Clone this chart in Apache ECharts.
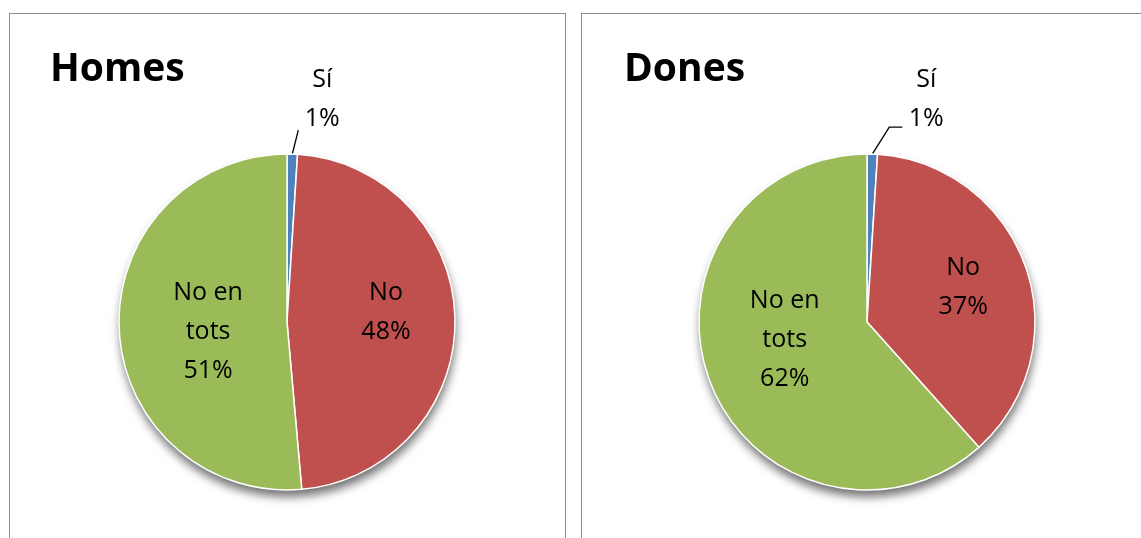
<!DOCTYPE html>
<html>
<head>
<meta charset="utf-8">
<script src="https://cdn.jsdelivr.net/npm/echarts@6/dist/echarts.min.js"></script>
<style>
  html, body { margin: 0; padding: 0; background: #fff; overflow: hidden; }
  .panel { position: absolute; border: 1.5px solid #8c8c8c; background: #fff; }
  #chart { position: absolute; left: 0; top: 0; width: 1141px; height: 538px; }
</style>
</head>
<body>
<div class="panel" style="left:9px;top:13px;width:555px;height:560px;"></div>
<div class="panel" style="left:581px;top:13px;width:600px;height:560px;"></div>
<div id="chart"></div>
<script>
  // data
  const categories = ['Sí', 'No', 'No en tots'];
  const homes = [1.0, 47.6, 51.4];
  const dones = [1.0, 37.4, 61.6];
  const titles = ['Homes', 'Dones'];
  const colors = ['#4F81BD', '#C0504D', '#9BBB59'];

  const font = 'Open Sans';
  const chart = echarts.init(document.getElementById('chart'));

  function buildData(values) {
    return categories.map((name, i) => {
      const item = { name: name, value: values[i], itemStyle: { color: colors[i] } };
      if (i === 0) {
        item.label = { position: 'outside' };
        item.labelLine = { show: true, length: 28, length2: 10,
          lineStyle: { color: '#000', width: 1.3 } };
      }
      return item;
    });
  }

  function shadowSeries(center, values) {
    return {
      type: 'pie',
      center: center,
      radius: 168,
      silent: true,
      z: 1,
      label: { show: false },
      labelLine: { show: false },
      itemStyle: {
        color: '#fff',
        shadowBlur: 10,
        shadowOffsetY: 7,
        shadowOffsetX: 1,
        shadowColor: 'rgba(0,0,0,0.55)'
      },
      data: [values.reduce((a, b) => a + b, 0)]
    };
  }

  // cfg.line: leader line bend [dx, dy] and horizontal tail; cfg.si: label offset; cfg.inside: offsets of inner labels
  function pieSeries(center, values, cfg) {
    return {
      type: 'pie',
      center: center,
      radius: 168,
      startAngle: 90,
      clockwise: true,
      avoidLabelOverlap: false,
      z: 2,
      itemStyle: { borderColor: '#fff', borderWidth: 1.5 },
      label: {
        show: true,
        position: 'inside',
        formatter: p => (p.name === 'No en tots' ? 'No en\ntots' : p.name) + '\n' + p.percent + '%',
        color: '#000',
        fontFamily: font,
        fontSize: 25,
        lineHeight: 39
      },
      labelLayout: function (params) {
        if (params.dataIndex === 0) {
          const p0 = params.labelLinePoints[0];
          const p1 = [p0[0] + cfg.line[0], p0[1] + cfg.line[1]];
          const p2 = [p1[0] + cfg.line[2], p1[1]];
          return {
            x: p2[0] + cfg.si[0],
            y: p2[1] + cfg.si[1],
            align: 'center',
            verticalAlign: 'middle',
            labelLinePoints: [p0, p1, p2]
          };
        }
        const off = cfg.inside[params.dataIndex - 1];
        return { dx: off[0], dy: off[1] };
      },
      percentPrecision: 0,
      data: buildData(values)
    };
  }

  chart.setOption({
    animation: false,
    title: [
      { text: titles[0], left: 45, top: 45, textStyle: { fontFamily: font, fontWeight: 'bold', fontSize: 39, color: '#000' } },
      { text: titles[1], left: 619, top: 45, textStyle: { fontFamily: font, fontWeight: 'bold', fontSize: 39, color: '#000' } }
    ],
    series: [
      shadowSeries([287, 322], homes),
      pieSeries([287, 322], homes, { line: [6, -24, 0], si: [24, -31], inside: [[12, -9], [8, 6]] }),
      shadowSeries([867, 322], dones),
      pieSeries([867, 322], dones, { line: [17, -27, 13], si: [24, -28], inside: [[14, -6], [-1, -13]] })
    ]
  });
</script>
</body>
</html>
